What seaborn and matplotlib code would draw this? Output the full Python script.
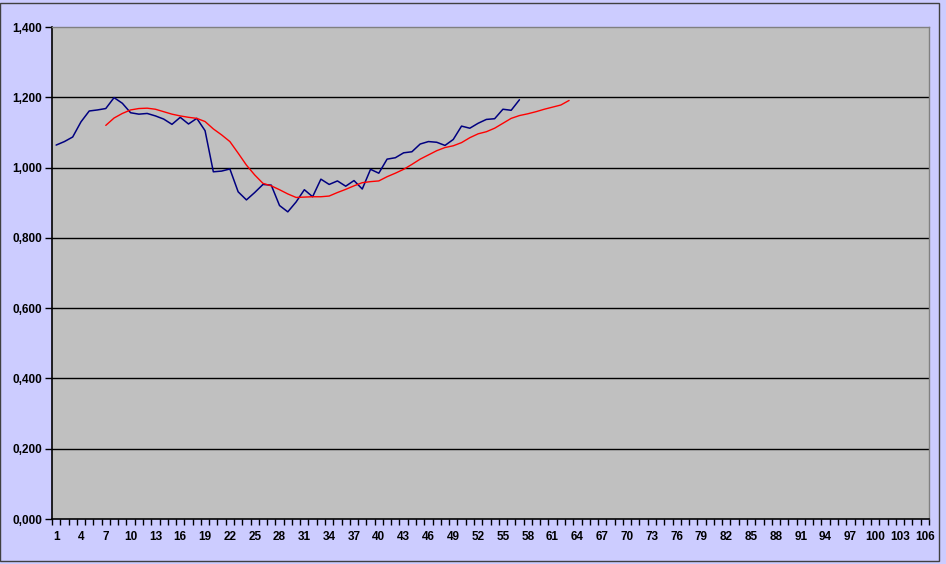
import numpy as np
import pandas as pd
import matplotlib
matplotlib.use("Agg")
import matplotlib.pyplot as plt
import seaborn as sns
from matplotlib.patches import Rectangle

# ==============================
# Data
# ==============================

n_categories = 106

blue_start = 1
blue_values = [
    1.064, 1.074, 1.087, 1.130, 1.161, 1.164, 1.168, 1.199, 1.183, 1.156,
    1.152, 1.154, 1.147, 1.138, 1.123, 1.143, 1.124, 1.140, 1.105, 0.988,
    0.990, 0.996, 0.931, 0.908, 0.929, 0.952, 0.950, 0.892, 0.874, 0.902,
    0.937, 0.917, 0.967, 0.952, 0.962, 0.947, 0.963, 0.939, 0.995, 0.984,
    1.024, 1.028, 1.042, 1.045, 1.067, 1.074, 1.072, 1.063, 1.080, 1.118,
    1.112, 1.126, 1.137, 1.139, 1.166, 1.163, 1.193,
]

red_start = 7
red_values = [
    1.120, 1.141, 1.154, 1.164, 1.168, 1.169, 1.166, 1.159, 1.152, 1.147,
    1.143, 1.140, 1.131, 1.110, 1.093, 1.074, 1.041, 1.007, 0.979, 0.955,
    0.948, 0.937, 0.925, 0.915, 0.916, 0.917, 0.917, 0.919, 0.929, 0.938,
    0.948, 0.957, 0.960, 0.962, 0.974, 0.984, 0.995, 1.009, 1.024, 1.036,
    1.048, 1.057, 1.062, 1.071, 1.085, 1.096, 1.102, 1.112, 1.126, 1.140,
    1.148, 1.153, 1.159, 1.166, 1.172, 1.178, 1.191,
]

y_ticks = [0.0, 0.2, 0.4, 0.6, 0.8, 1.0, 1.2, 1.4]
y_tick_labels = ["0,000", "0,200", "0,400", "0,600", "0,800", "1,000", "1,200", "1,400"]

x_label_every = 3

blue_df = pd.DataFrame({
    "x": np.arange(blue_start, blue_start + len(blue_values)),
    "y": blue_values,
})
red_df = pd.DataFrame({
    "x": np.arange(red_start, red_start + len(red_values)),
    "y": red_values,
})

# ==============================
# Figure
# ==============================

sns.set_style("white")
plt.rcParams["font.family"] = ["Liberation Sans", "DejaVu Sans"]

bg = "#CCCCFF"
fig = plt.figure(figsize=(9.46, 5.64), dpi=100, facecolor=bg)
ax = fig.add_axes([52 / 946, 1 - 519 / 564, 877 / 946, 492 / 564])
ax.set_facecolor("#C0C0C0")

sns.lineplot(data=blue_df, x="x", y="y", ax=ax, color="#000080", linewidth=1.1)
sns.lineplot(data=red_df, x="x", y="y", ax=ax, color="#FF0000", linewidth=1.0)

ax.set_xlim(0.5, n_categories + 0.5)
ax.set_ylim(0, 1.4)

# horizontal gridlines
for yv in y_ticks[1:-1]:
    ax.axhline(yv, color="black", linewidth=1.0, zorder=0.5)

ax.set_yticks(y_ticks)
ax.set_yticklabels(y_tick_labels, fontsize=8.5, fontweight="bold", color="#000000")
ax.tick_params(axis="y", left=True, direction="out", length=5, width=1,
               color="black", pad=2)

cats = np.arange(1, n_categories + 1)
ax.set_xticks(cats[::x_label_every])
ax.set_xticklabels([str(c) for c in cats[::x_label_every]],
                   fontsize=8.5, fontweight="bold", color="#000000")
ax.set_xticks(np.arange(0.5, n_categories + 1, 1.0), minor=True)
ax.tick_params(axis="x", which="major", bottom=True, length=0, pad=9)
ax.tick_params(axis="x", which="minor", bottom=True, direction="out",
               length=4, width=1, color="black")

ax.set_xlabel("")
ax.set_ylabel("")

for side in ["left", "bottom"]:
    ax.spines[side].set_color("black")
    ax.spines[side].set_linewidth(1.2)
for side in ["top", "right"]:
    ax.spines[side].set_visible(True)
    ax.spines[side].set_color("#808080")
    ax.spines[side].set_linewidth(1.0)

# chart border (spreadsheet object edge)
fig.add_artist(Rectangle((0, 3 / 564), 939 / 946, 558 / 564,
                         transform=fig.transFigure, fill=False,
                         edgecolor="#404040", linewidth=1.0))

fig.savefig("out.png", dpi=100, facecolor=bg)
plt.close()
